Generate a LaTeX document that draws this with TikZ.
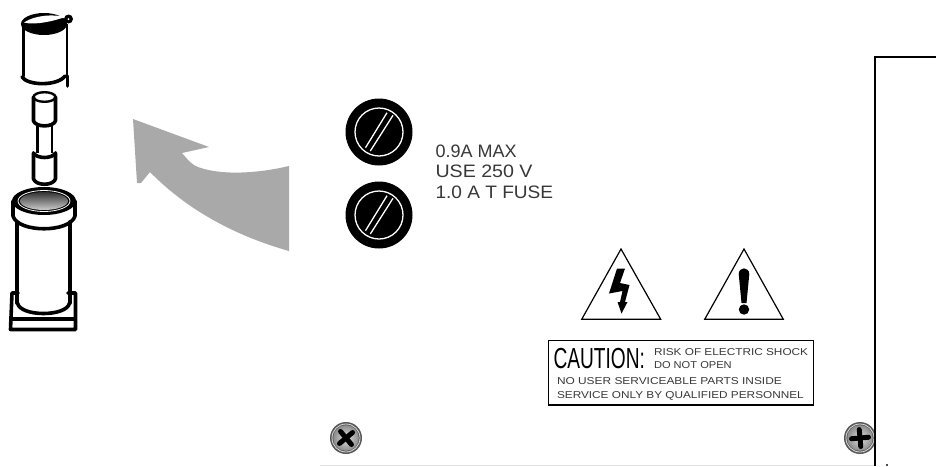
\documentclass[tikz,border=0pt]{standalone}
\usepackage{fontspec}
\setmainfont{Liberation Sans}
\definecolor{arrowgray}{HTML}{A9A9A9}
\tikzset{
  thick line/.style={line width=3.6pt,black,line cap=round,line join=round},
  mid line/.style={line width=2.4pt,black,line join=round},
  label text/.style={anchor=base west,inner sep=0pt,outer sep=0pt,text=black!78},
  warn tri/.style={line width=1.2pt,black,line join=miter,fill=white},
  slot ring/.style={line width=1.3pt,white}
}
\newcommand{\slotscrew}[2]{%
  \begin{scope}[shift={(#1,#2)}]
    \fill[black] (0,0) circle[radius=33.5];
    \draw[slot ring] (0,0) circle[radius=24];
    \draw[slot ring] (-13.5,15.7) -- (8,-19.3);
    \draw[slot ring] (-8.7,19) -- (14,-16.7);
  \end{scope}}
\newcommand{\crossscrew}[3]{%
  \begin{scope}[shift={(#1,#2)}]
    \fill[black!65] (0,0) circle[radius=16];
    \draw[white!85!black,line width=.8pt] (0,0) circle[radius=14];
    \shade[inner color=white!88!black,outer color=black!45] (0,0) circle[radius=12.8];
    \begin{scope}[rotate=#3]
      \draw[black,line width=5pt,line cap=round] (-8.5,0) -- (8.5,0);
      \draw[black,line width=5pt,line cap=round] (0,-8.5) -- (0,8.5);
    \end{scope}
  \end{scope}}
\begin{document}
\begin{tikzpicture}[x=1pt,y=-1pt]
\useasboundingbox (0,0) rectangle (936,466);
\fill[white] (0,0) rectangle (936,466);

% top cap
\draw[thick line] (23.5,26) -- (23.5,76);
\draw[mid line] (67,24) -- (67,78);
\draw[thick line] (67.5,76) -- (67.5,86);
\draw[thick line] (22,77) .. controls (28,86) and (58,86) .. (65,76);
\fill[black] (44,24) ellipse[x radius=23,y radius=11];
\fill[white] (24,22.5) .. controls (35,15) and (54,14) .. (65,17) .. controls (54,21) and (35,25.5) .. (24,22.5) -- cycle;
\fill[black] (68.5,19) circle[radius=4.5];
\fill[white] (68.5,19) circle[radius=1];

% fuse
\draw[thick line] (33.5,97) -- (33.5,121) .. controls (36,127.5) and (53,127.5) .. (55.5,121) -- (55.5,97);
\draw[mid line] (44.5,97) ellipse[x radius=11,y radius=4.8];
\draw[mid line] (37.5,126) -- (37.5,153);
\draw[mid line] (52,126) -- (52,153);
\draw[thick line] (33.5,153) .. controls (37,159) and (52,159) .. (55.5,153);
\draw[thick line] (33.5,153) -- (33.5,179) .. controls (36,186) and (53,186) .. (55.5,179) -- (55.5,153);

% holder
\draw[thick line] (17,222) -- (17,303);
\draw[thick line] (70,222) -- (70,303);
\draw[thick line] (17.5,303) .. controls (20,317) and (67,317) .. (69.5,303);
\draw[thick line] (18,293) -- (12,293) -- (10.5,329.5) -- (75.5,329.5) -- (75.5,293) -- (68,293);
\fill[black] (11,316.5) -- (75,316.5) -- (75,320.5) -- (11,320.5) -- cycle;
\draw[thick line] (13,201) -- (13,216) .. controls (18,233) and (70,233) .. (75,216) -- (75,201);
\fill[black] (44,201) ellipse[x radius=32,y radius=14];
\draw[white,line width=.8pt] (44,201) ellipse[x radius=26,y radius=10.5];
\shade[top color=black!80,bottom color=black!20] (44,201) ellipse[x radius=24,y radius=9];

% arrow
\fill[arrowgray] (133,119) -- (209,147) -- (182,153)
  .. controls (188,160) and (192,165) .. (198,167)
  .. controls (222,176) and (260,173) .. (289,166)
  -- (289,251)
  .. controls (250,240) and (195,218) .. (150,172)
  -- (141,183) -- (137,183) -- cycle;

% slotted screws
\slotscrew{379}{132}
\slotscrew{379}{215}

% fuse text
\node[label text,font=\fontsize{18}{18}\selectfont,xscale=1.0] (t1) at (435.5,157.5) {0.9A MAX};
\node[label text,font=\fontsize{18}{18}\selectfont,xscale=1.09] (t2) at (435.5,177.5) {USE 250 V};
\node[label text,font=\fontsize{18}{18}\selectfont,xscale=1.06] (t3) at (435.5,198) {1.0 A T FUSE};

% warning triangles
\draw[warn tri] (581.7,319.3) -- (621,249) -- (660.7,319.3) -- cycle;
\draw[warn tri] (704.7,319.3) -- (744,249) -- (783.3,319.3) -- cycle;
\fill[black] (617,268.5) -- (625,268.5) -- (620,283) -- (629.5,285) -- (625,302) -- (627.5,302) -- (621.5,313.5) -- (617.5,302) -- (620,302) -- (622.5,291) -- (609,293.5) -- cycle;
\fill[black] (738.7,274) .. controls (739,266.5) and (749,266.5) .. (749.3,274) -- (746.5,303) -- (741.5,303) -- cycle;
\fill[black] (744,309.5) circle[radius=5.2];

% caution box
\draw[line width=1.2pt] (548.3,340.7) rectangle (813.3,405);
\node[label text,text=black,font=\fontsize{29}{29}\selectfont,xscale=.66] (c0) at (553.5,368) {CAUTION:};
\node[label text,font=\fontsize{10}{10}\selectfont,xscale=1.18] (c1) at (654,355) {RISK OF ELECTRIC SHOCK};
\node[label text,font=\fontsize{10}{10}\selectfont,xscale=1.11] (c2) at (654,368.5) {DO NOT OPEN};
\node[label text,font=\fontsize{10}{10}\selectfont,xscale=1.19] (c3) at (557,384) {NO USER SERVICEABLE PARTS INSIDE};
\node[label text,font=\fontsize{10}{10}\selectfont,xscale=1.18] (c4) at (557,398) {SERVICE ONLY BY QUALIFIED PERSONNEL};

% panel outline
\draw[black!12,line width=1pt] (320,465.5) -- (875,465.5);
\crossscrew{346}{438}{40}
\crossscrew{860}{438}{5}
\draw[black,line width=1.2pt] (936,57) -- (875,57) -- (875,466);
\fill[black!70] (886,464) rectangle (888,466);
\end{tikzpicture}
\end{document}
